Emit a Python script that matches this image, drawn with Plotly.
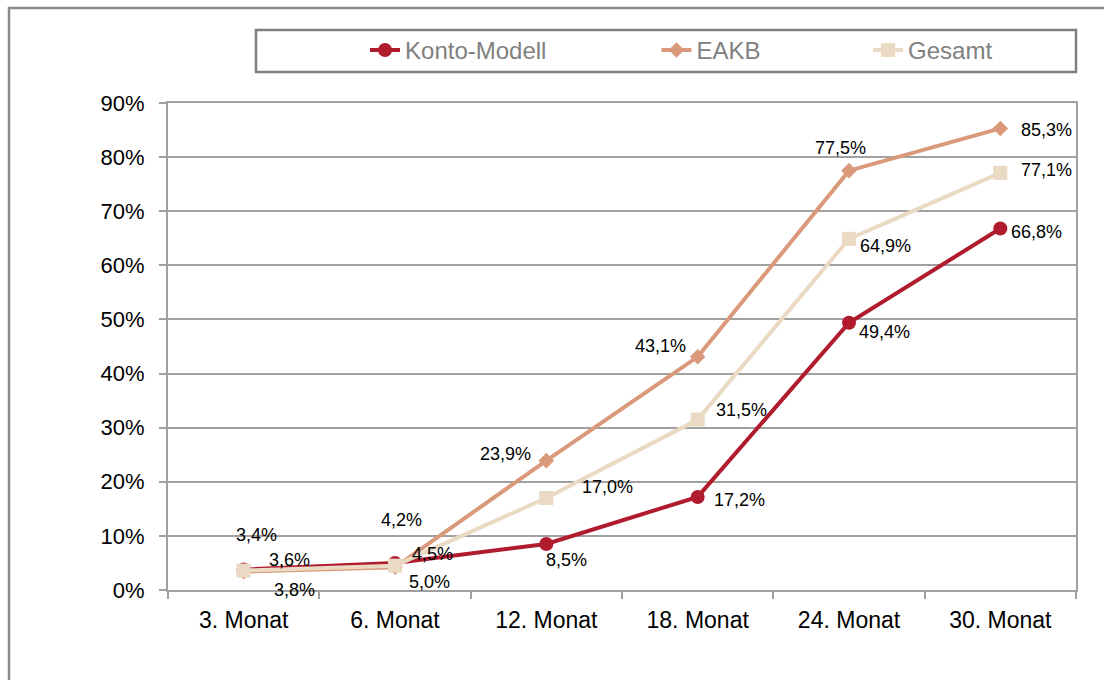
import plotly.graph_objects as go

# Categories and series values (percent)
months = ["3. Monat", "6. Monat", "12. Monat", "18. Monat", "24. Monat", "30. Monat"]
konto = [3.8, 5.0, 8.5, 17.2, 49.4, 66.8]
eakb = [3.4, 4.2, 23.9, 43.1, 77.5, 85.3]
gesamt = [3.6, 4.5, 17.0, 31.5, 64.9, 77.1]

# Pixel offsets of each value label relative to its point (dx, dy with dy up)
konto_off = [(51, -21), (34, -19), (20, -16), (42, -3), (35, -9), (36, -3)]
eakb_off = [(13, 37), (6, 47), (-41, 7), (-37, 11), (-9, 23), (46, -2)]
gesamt_off = [(46, 11), (37, 12), (61, 11), (44, 10), (36, -7), (46, 3)]

RED = "#B01C2E"
SALMON = "#D9997A"
BEIGE = "#EAD9C3"
GRID = "#A0A0A0"
FRAME = "#8A8A8A"

fig = go.Figure()

# Konto-Modell drawn first, Gesamt last (on top)
series = [
    ("Konto-Modell", konto, RED, "circle", 14, "legend"),
    ("EAKB", eakb, SALMON, "diamond", 12, "legend2"),
    ("Gesamt", gesamt, BEIGE, "square", 14, "legend3"),
]
for name, vals, col, sym, size, lg in series:
    fig.add_trace(go.Scatter(
        x=months, y=vals, name=name, mode="lines+markers",
        line=dict(color=col, width=4),
        marker=dict(symbol=sym, size=size, color=col),
        legend=lg, cliponaxis=False,
    ))

annotations = []
for vals, offs in [(konto, konto_off), (eakb, eakb_off), (gesamt, gesamt_off)]:
    for m, v, (dx, dy) in zip(months, vals, offs):
        annotations.append(dict(
            x=m, y=v, xref="x", yref="y",
            text=f"{v:.1f}%".replace(".", ","),
            showarrow=False, xshift=dx, yshift=dy,
            xanchor="center", yanchor="middle",
            font=dict(family="Liberation Sans, Arial", size=18, color="#000000"),
        ))

legend_common = dict(
    orientation="h", bgcolor="rgba(0,0,0,0)", borderwidth=0,
    font=dict(family="Liberation Sans, Arial", size=24, color="#808080"),
    xanchor="left", yanchor="middle", y=1.108,
)

fig.update_layout(
    width=1104, height=680,
    margin=dict(l=168, r=28, t=103, b=90),
    paper_bgcolor="white", plot_bgcolor="white",
    font=dict(family="Liberation Sans, Arial", size=22, color="#000000"),
    showlegend=True,
    legend=dict(**legend_common, x=0.217),
    legend2=dict(**legend_common, x=0.538),
    legend3=dict(**legend_common, x=0.771),
    annotations=annotations,
    shapes=[
        # outer frame
        dict(type="rect", xref="paper", yref="paper",
             x0=-0.1751, y0=-0.25, x1=1.06, y1=1.195,
             line=dict(color=FRAME, width=2.5), fillcolor="rgba(0,0,0,0)", layer="below"),
        # legend box
        dict(type="rect", xref="paper", yref="paper",
             x0=0.0969, y0=1.0637, x1=1.0, y1=1.1499,
             line=dict(color="#7F7F7F", width=2.5), fillcolor="rgba(0,0,0,0)"),
    ],
)

fig.update_xaxes(
    type="category", range=[-0.5, 5.5],
    showline=True, linecolor=GRID, linewidth=2, mirror=True,
    showgrid=False, ticks="outside", tickson="boundaries", ticklen=7,
    tickcolor=GRID, tickwidth=2, ticklabelstandoff=8,
    tickfont=dict(family="Liberation Sans, Arial", size=23, color="#000000"),
)
fig.update_yaxes(
    range=[0, 90], tickvals=[0, 10, 20, 30, 40, 50, 60, 70, 80, 90],
    ticktext=[f"{v}%" for v in range(0, 100, 10)],
    showline=True, linecolor=GRID, linewidth=2, mirror=True,
    showgrid=True, gridcolor=GRID, gridwidth=1.5,
    ticks="outside", ticklen=7, tickcolor=GRID, tickwidth=2,
    ticklabelstandoff=10, zeroline=False,
    tickfont=dict(family="Liberation Sans, Arial", size=22, color="#000000"),
)

fig.write_html("out.html")
